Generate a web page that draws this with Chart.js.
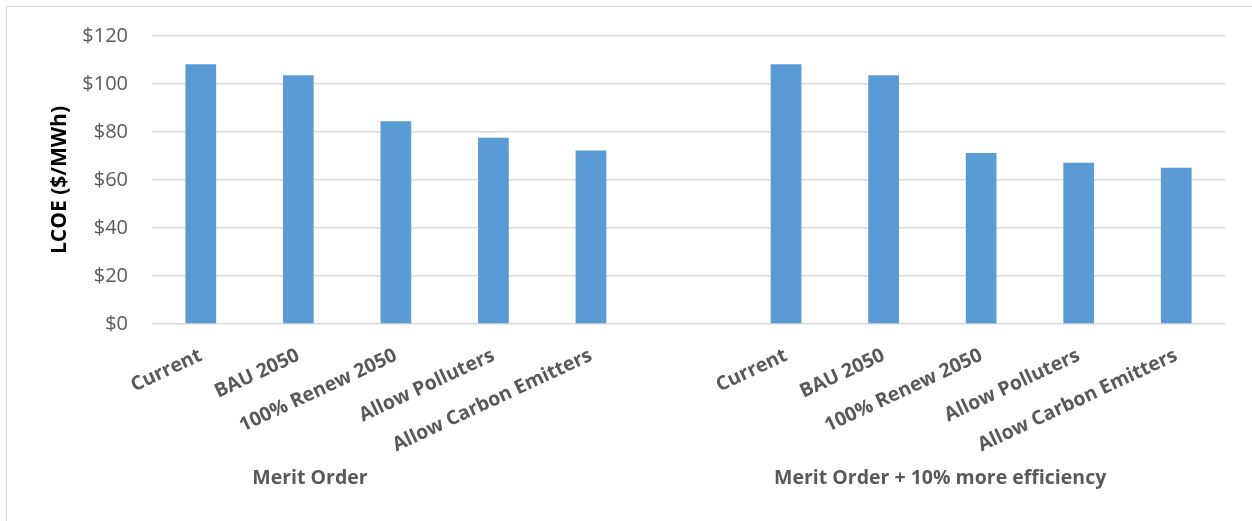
<!DOCTYPE html>
<html>
<head>
<meta charset="utf-8">
<script src="https://cdn.jsdelivr.net/npm/chart.js@4.4.0/dist/chart.umd.min.js"></script>
<style>
  html, body { margin: 0; padding: 0; background: #fff; }
  #wrap { position: relative; width: 1252px; height: 521px; overflow: hidden; }
  #frame { position: absolute; left: 6px; top: 6px; width: 1260px; height: 530px; border: 1px solid #d9d9d9; box-sizing: border-box; }
  #lcoe { position: absolute; left: 0; top: 0; }
</style>
</head>
<body>
<div id="wrap">
  <div id="frame"></div>
  <canvas id="lcoe" width="1252" height="521"></canvas>
</div>
<script>
// Scenario labels, blank slot separates the two groups
var scenarios = ['Current', 'BAU 2050', '100% Renew 2050', 'Allow Polluters', 'Allow Carbon Emitters',
  '',
  'Current', 'BAU 2050', '100% Renew 2050', 'Allow Polluters', 'Allow Carbon Emitters'];
var meritOrder = [108.2, 103.6, 84.5, 77.6, 72.3];
var meritOrderEfficiency = [108.2, 103.6, 71.2, 67.2, 65.1];
var groupNames = ['Merit Order', 'Merit Order + 10% more efficiency'];
var yTicks = [0, 20, 40, 60, 80, 100, 120];

var BLUE = '#5b9bd5';
var GREY_TEXT = '#595959';
var GRID = '#d9d9d9';
var FONT = "'Open Sans', 'Liberation Sans', sans-serif";

var lcoe = meritOrder.concat([null], meritOrderEfficiency);

// group captions under the rotated labels (x given in category units)
var groupCaptions = {
  id: 'groupCaptions',
  afterDraw: function(chart) {
    var ctx = chart.ctx;
    var xs = chart.scales.x;
    var at = [1.12, 7.58];
    ctx.save();
    ctx.font = 'bold 19.5px ' + FONT;
    ctx.fillStyle = GREY_TEXT;
    ctx.textAlign = 'center';
    ctx.textBaseline = 'middle';
    groupNames.forEach(function(name, i) {
      ctx.fillText(name, xs.getPixelForValue(at[i]), 478);
    });
    ctx.restore();
  }
};

new Chart(document.getElementById('lcoe'), {
  type: 'bar',
  data: {
    labels: scenarios,
    datasets: [{
      label: 'LCOE',
      data: lcoe,
      backgroundColor: BLUE,
      borderWidth: 0,
      categoryPercentage: 1,
      barPercentage: 0.315
    }]
  },
  options: {
    responsive: false,
    animation: false,
    layout: { padding: { left: 47, right: 27, top: 35, bottom: 0 } },
    plugins: {
      legend: { display: false },
      tooltip: { enabled: false }
    },
    scales: {
      x: {
        grid: { display: false },
        border: { display: false },
        ticks: {
          autoSkip: false,
          minRotation: 25,
          maxRotation: 25,
          padding: 12,
          color: GREY_TEXT,
          font: { family: FONT, size: 19.5, weight: 'bold' }
        },
        afterFit: function(scale) { scale.height = 197; }
      },
      y: {
        min: 0,
        max: 120,
        afterBuildTicks: function(scale) {
          scale.ticks = yTicks.map(function(v) { return { value: v }; });
        },
        grid: { color: GRID, lineWidth: 1.5, drawTicks: false },
        border: { display: false },
        ticks: {
          padding: 24,
          color: GREY_TEXT,
          font: { family: FONT, size: 20 },
          callback: function(v) { return '$' + v; }
        },
        title: {
          display: true,
          text: 'LCOE ($/MWh)',
          color: '#000',
          padding: { top: 0, bottom: 0 },
          font: { family: FONT, size: 21, weight: 'bold' }
        },
        afterFit: function(scale) { scale.width = 105; }
      }
    }
  },
  plugins: [groupCaptions]
});
</script>
</body>
</html>
